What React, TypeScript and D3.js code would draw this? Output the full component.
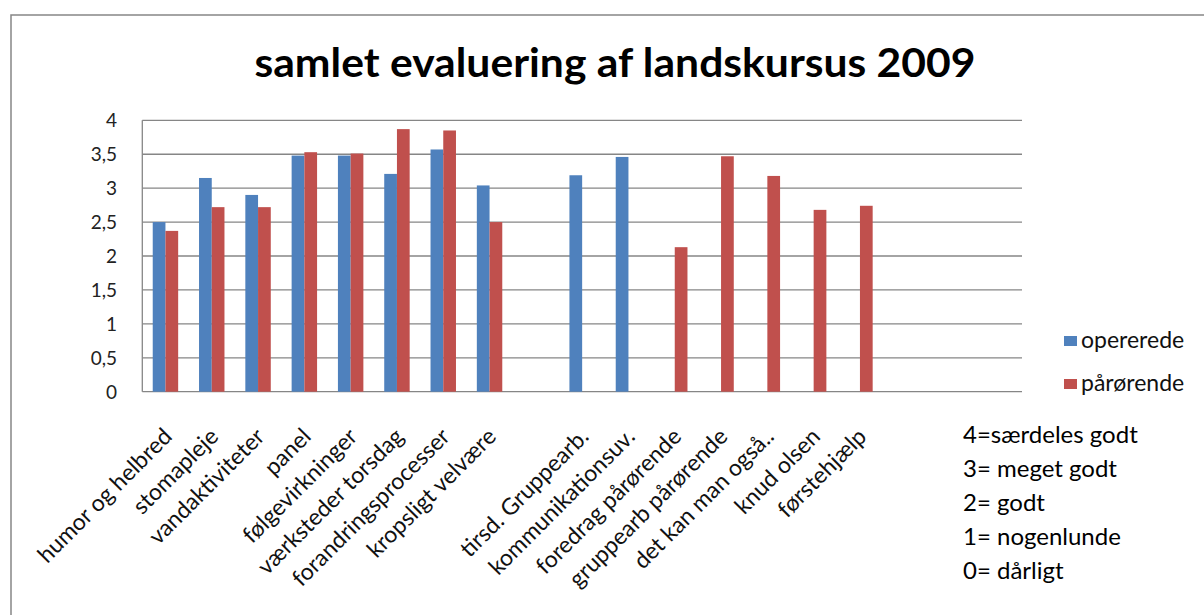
import React from 'react'
import * as d3 from 'd3'

const categories = [
  'humor og helbred', 'stomapleje', 'vandaktiviteter', 'panel', 'følgevirkninger',
  'værksteder torsdag', 'forandringsprocesser', 'kropsligt velvære', '',
  'tirsd. Gruppearb.', 'kommunikationsuv.', 'foredrag pårørende', 'gruppearb pårørende',
  'det kan man også..', 'knud olsen', 'førstehjælp', '', '', '',
]
const opererede: (number | null)[] = [
  2.5, 3.15, 2.9, 3.48, 3.48, 3.21, 3.57, 3.04, null,
  3.19, 3.46, null, null, null, null, null, null, null, null,
]
const paarorende: (number | null)[] = [
  2.37, 2.72, 2.72, 3.53, 3.51, 3.87, 3.85, 2.5, null,
  null, null, 2.13, 3.47, 3.18, 2.68, 2.74, null, null, null,
]
const seriesNames = ['opererede', 'pårørende']
const seriesColors = ['#4F81BD', '#C0504D']
const yTicks = [0, 0.5, 1, 1.5, 2, 2.5, 3, 3.5, 4]
const scaleNotes = ['4=særdeles godt', '3= meget godt', '2= godt', '1= nogenlunde', '0= dårligt']

const title = 'samlet evaluering af landskursus 2009'
const font = 'Lato, "Open Sans", sans-serif'

export default function App() {
  const width = 1204
  const height = 615
  const plot = { left: 142.3, right: 1022, top: 120.3, bottom: 391.7 }

  const x = d3.scaleBand<number>()
    .domain(categories.map((_, i) => i))
    .range([plot.left, plot.right])
    .paddingInner(0)
  const inner = d3.scaleBand<string>()
    .domain(seriesNames)
    .range([0, x.bandwidth()])
    .paddingInner(0)
    .paddingOuter(0.82)
  const y = d3.scaleLinear().domain([0, 4]).range([plot.bottom, plot.top])

  const fmt = (v: number) => String(v).replace('.', ',')
  const allSeries = [opererede, paarorende]

  return (
    <svg width={width} height={height} style={{ position: 'absolute', left: 0, top: 0, background: '#fff' }}
      fontFamily={font}>
      <rect x={11} y={15} width={width} height={height} fill="#fff" stroke="#868686" strokeWidth={1.5} />
      <text x={615} y={77} textAnchor="middle" fontSize={40} fontWeight="bold" textLength={721}
        lengthAdjust="spacingAndGlyphs">{title}</text>

      {yTicks.map(t => (
        <g key={t}>
          <line x1={plot.left} x2={plot.right} y1={y(t)} y2={y(t)} stroke="#868686" strokeWidth={1.3} />
          <text x={117} y={y(t) + 7} textAnchor="end" fontSize={19} fill="#222">{fmt(t)}</text>
        </g>
      ))}
      <line x1={plot.left} x2={plot.left} y1={plot.top} y2={plot.bottom} stroke="#868686" strokeWidth={1.3} />

      {allSeries.map((vals, s) => vals.map((v, i) => v == null ? null : (
        <rect key={`${s}-${i}`} x={x(i)! + inner(seriesNames[s])!} y={y(v)}
          width={inner.bandwidth()} height={y(0) - y(v)} fill={seriesColors[s]} />
      )))}

      {categories.map((c, i) => {
        const cx = x(i)! + x.bandwidth() / 2 + 8
        const cy = 438
        return (
          <text key={i} x={cx} y={cy} transform={`rotate(-45 ${cx} ${cy})`} textAnchor="end"
            fontSize={23} fill="#111">{c}</text>
        )
      })}

      {seriesNames.map((n, s) => (
        <g key={n}>
          <rect x={1064} y={336 + s * 43} width={13} height={10} fill={seriesColors[s]} />
          <text x={1081} y={348 + s * 43} fontSize={23} fill="#111">{n}</text>
        </g>
      ))}

      {scaleNotes.map((n, i) => (
        <text key={n} x={963} y={443 + i * 34} fontSize={24} fill="#000">{n}</text>
      ))}
    </svg>
  )
}
